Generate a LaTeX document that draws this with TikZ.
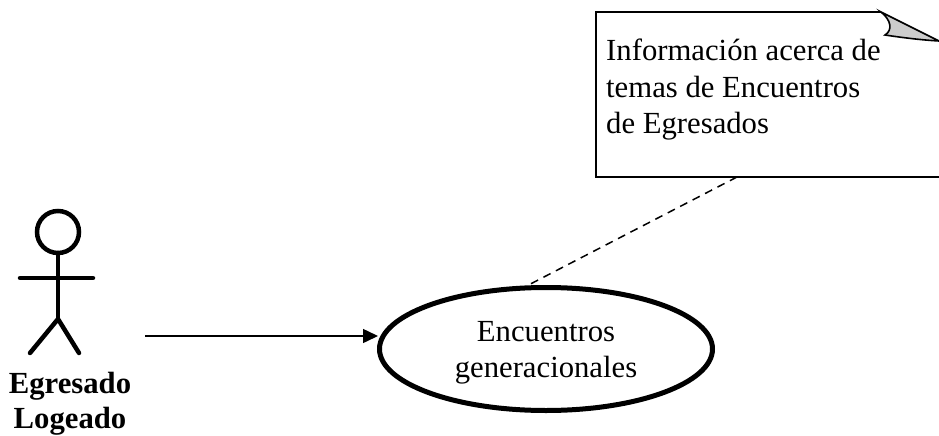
\documentclass[tikz,border=0pt]{standalone}
\usepackage{fontspec}
\setmainfont{Liberation Serif}
\usetikzlibrary{shapes.geometric,arrows.meta}
\tikzset{
  usecase/.style={ellipse,draw,line width=5pt,minimum width=333pt,minimum height=123pt,inner sep=0pt,align=center,text depth=0pt},
  uctext/.style={inner sep=0pt,align=center,font=\fontsize{30.7}{36}\selectfont},
  notetext/.style={anchor=north west,inner sep=0pt,align=left,font=\fontsize{30.7}{36.5}\selectfont},
  actorlabel/.style={inner sep=0pt,align=center,font=\fontsize{30.7}{35}\selectfont\bfseries},
  actorline/.style={line width=4.5pt,line cap=round},
  noteline/.style={line width=1.6pt,line join=miter},
  assoc/.style={line width=1.5pt,-{Triangle[length=15pt,width=14pt]}},
  depend/.style={line width=1.5pt,dash pattern=on 8pt off 6pt}
}
\begin{document}
\begin{tikzpicture}[x=1pt,y=-1pt]
\useasboundingbox (0,0) rectangle (939,436);
% note
\coordinate (nTL) at (596,12);
\coordinate (nFold) at (881,12);
\coordinate (nTip) at (939,41);
\coordinate (nBL) at (596,177);
\coordinate (nBR) at (939,177);
\draw[noteline] (nFold) -- (nTL) -- (nBL) -- (nBR);
\draw[noteline,fill=black!20] (nFold) .. controls (891,20) and (893,30) .. (885,35) .. controls (905,38) and (922,40) .. (nTip) -- cycle;
\node[notetext] (note) at (606,39) {Información acerca de\\temas de Encuentros\\de Egresados};
% use case
\node[usecase] (uc) at (546,349) {};
\node[uctext] (uclabel) at (546,353) {Encuentros\\generacionales};
% actor
\coordinate (neck) at (58,253);
\coordinate (hip) at (58,319);
\draw[line width=4.5pt] (58,232) circle (21);
\draw[actorline] (neck) -- (hip);
\draw[actorline] (20,278) -- (93,278);
\draw[actorline] (30,353) -- (hip) -- (79,353);
\node[actorlabel] (actor) at (70,404) {Egresado\\Logeado};
% connectors
\coordinate (free) at (145,336);
\coordinate (ucin) at (378,336);
\draw[assoc] (free) -- (ucin);
\coordinate (noteanchor) at (737,177);
\draw[depend] (noteanchor) -- (uc.106);
\end{tikzpicture}
\end{document}
